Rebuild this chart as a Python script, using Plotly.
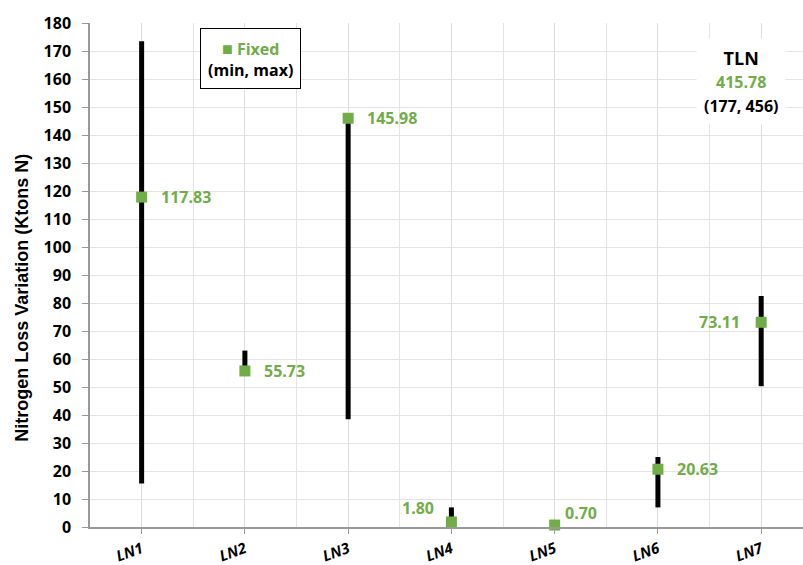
import plotly.graph_objects as go

categories = ["LN1", "LN2", "LN3", "LN4", "LN5", "LN6", "LN7"]
fixed = [117.83, 55.73, 145.98, 1.80, 0.70, 20.63, 73.11]
vmin = [15.5, 55.0, 38.5, 1.0, 0.3, 7.0, 50.3]
vmax = [173.5, 63.0, 146.0, 7.0, 1.0, 25.0, 82.5]
label_side = ["right", "right", "right", "left", "right", "right", "left"]
label_xshift = [17, 17, 17, -15, 8, 17, -19]
label_yshift = [0, 0, 0, 14, 12, 0, 0]
tln_title = "TLN"
tln_value = "415.78"
tln_range = "(177, 456)"
y_title = "Nitrogen Loss Variation (Ktons N)"

GREEN = "#70AD47"
FONT = "Open Sans"
x = list(range(len(categories)))

fig = go.Figure()
fig.add_trace(go.Scatter(
    x=x, y=fixed, mode="markers",
    marker=dict(symbol="square", size=11, color=GREEN),
    error_y=dict(type="data", symmetric=False,
                 array=[mx - f for mx, f in zip(vmax, fixed)],
                 arrayminus=[f - mn for mn, f in zip(vmin, fixed)],
                 color="black", thickness=5, width=0),
    showlegend=False, cliponaxis=False,
))

for xi, f, side, dx, dy in zip(x, fixed, label_side, label_xshift, label_yshift):
    anchor = "left" if side == "right" else "right"
    fig.add_annotation(x=xi, y=f, text=f"{f:.2f}", showarrow=False,
                       xanchor=anchor, xshift=dx, yshift=dy,
                       font=dict(family=FONT, size=16, color=GREEN, weight="bold"))

fig.add_annotation(xref="paper", yref="paper", x=0.2258, y=0.9296,
                   xanchor="center", yanchor="middle",
                   text=f"<span style='color:{GREEN};font-size:18px'>■</span><span style='color:{GREEN}'> Fixed</span><br>(min, max)",
                   showarrow=False, align="center", bgcolor="white",
                   bordercolor="black", borderwidth=1, borderpad=7,
                   font=dict(family=FONT, size=16, color="black", weight="bold"))

fig.add_annotation(xref="paper", yref="paper", x=0.913, y=0.883,
                   xanchor="center", yanchor="middle",
                   text=f"{tln_title}<br><span style='color:{GREEN};font-size:16px'>{tln_value}</span><br><span style='font-size:16px'>{tln_range}</span>",
                   showarrow=False, align="center", bgcolor="white",
                   borderpad=7,
                   font=dict(family=FONT, size=18, color="black", weight="bold"))

fig.add_annotation(xref="paper", yref="paper", x=0, y=0.455,
                   xanchor="center", yanchor="middle", xshift=-68,
                   text=y_title, textangle=-90, showarrow=False,
                   font=dict(family="Liberation Sans", size=18, color="black", weight="bold"))

fig.update_layout(
    width=803, height=565,
    margin=dict(l=90, r=0, t=23, b=38),
    plot_bgcolor="white", paper_bgcolor="white",
    font=dict(family=FONT),
    xaxis=dict(
        range=[-0.5, 6.405], tickmode="array", tickvals=x, ticktext=categories,
        tickangle=-20, ticks="outside", ticklen=5, tickcolor="#999999",
        ticklabelstandoff=1, automargin=False,
        showgrid=True, gridcolor="#dcdcdc", gridwidth=1,
        minor=dict(dtick=0.5, tick0=0.5, showgrid=True, gridcolor="#e3e3e3", ticks=""),
        showline=True, linecolor="#999999", linewidth=1.5, zeroline=False,
        tickfont=dict(family=FONT, size=15, color="black", weight="bold", style="italic"),
    ),
    yaxis=dict(
        range=[0, 180], dtick=10, ticks="outside", ticklen=6, tickcolor="#999999",
        ticklabelstandoff=8, automargin=False,
        showgrid=True, gridcolor="#e3e3e3", gridwidth=1,
        showline=True, linecolor="#999999", linewidth=1.5, zeroline=False,
        tickfont=dict(family=FONT, size=16, color="black", weight="bold"),
    ),
)

fig.write_html("out.html")
